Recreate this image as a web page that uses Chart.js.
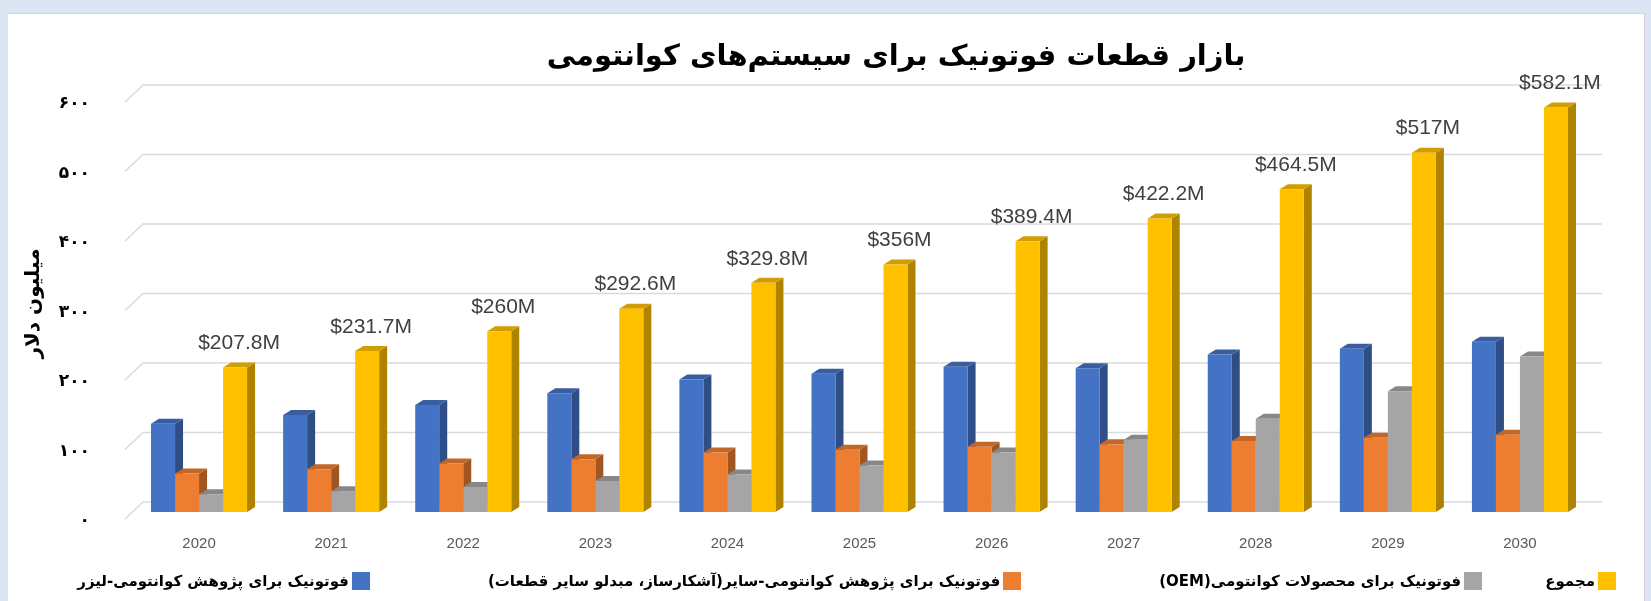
<!DOCTYPE html>
<html lang="fa">
<head>
<meta charset="utf-8">
<title>بازار قطعات فوتونیک برای سیستم‌های کوانتومی</title>
<script src="https://cdn.jsdelivr.net/npm/chart.js@4.4.1/dist/chart.umd.min.js"></script>
<style>
  body { margin: 0; background: #dbe5f4; }
  #panel {
    position: absolute; left: 8px; top: 13px; width: 1636px; height: 588px;
    background: #fff; border-top: 1px solid #d4d4d4; border-right: 1px solid #cfcfcf;
  }
  #wrap { position: absolute; left: 0; top: 0; width: 1651px; height: 601px; }
  #legend {
    position: absolute; left: 20px; right: 35px; top: 570px; height: 22px;
    display: flex; direction: rtl; justify-content: flex-start; align-items: center;
    font: bold 15px "DejaVu Sans", sans-serif; color: #000;
  }
  .item { display: flex; align-items: center; gap: 3px; white-space: nowrap; }
  .item:nth-child(1) { margin-left: 63px; }
  .item:nth-child(2) { margin-left: 138px; }
  .item:nth-child(3) { margin-left: 118px; }
  .box { width: 18px; height: 18px; }
</style>
</head>
<body>
<div id="panel"></div>
<div id="wrap">
  <canvas id="chart" width="1651" height="601"></canvas>
  <div id="legend"></div>
</div>
<script>
// سال‌ها
const years = ['2020', '2021', '2022', '2023', '2024', '2025', '2026', '2027', '2028', '2029', '2030'];

// میلیون دلار، خوانده از تصویر
const laserResearch = [127, 139.5, 154, 171, 190.5, 199, 209, 207, 226.5, 235, 245];
const otherResearch = [55.5, 61.6, 69.7, 76, 85.6, 89.5, 94, 97.6, 102, 107, 111];
const oemProducts = [25.5, 30, 36, 44.7, 54, 67, 85.6, 104, 134, 173.6, 223.7];
const totals = [207.8, 231.7, 260, 292.6, 329.8, 356, 389.4, 422.2, 464.5, 517, 582.1];

const seriesNames = [
  'فوتونیک برای پژوهش کوانتومی-لیزر',
  'فوتونیک برای پژوهش کوانتومی-سایر(آشکارساز، مبدلو سایر قطعات)',
  'فوتونیک برای محصولات کوانتومی(OEM)',
  'مجموع'
];
const seriesColors = ['#4472C4', '#ED7D31', '#A5A5A5', '#FFC000'];

const yTicks = [0, 100, 200, 300, 400, 500, 600];

// اعداد فارسی برای محور
function toFa(n) {
  return String(n).replace(/\d/g, d => '۰۱۲۳۴۵۶۷۸۹'[d]);
}

function shade(hex, f) {
  const n = parseInt(hex.slice(1), 16);
  const r = Math.round(((n >> 16) & 255) * f);
  const g = Math.round(((n >> 8) & 255) * f);
  const b = Math.round((n & 255) * f);
  return `rgb(${r},${g},${b})`;
}

// عمق سه‌بعدی ستون‌ها
const DX = 8, DY = -5;

// خطوط پس‌زمینه و وجه‌های کناری/بالایی ستون‌ها
const bars3d = {
  id: 'bars3d',
  beforeDatasetsDraw(chart) {
    const ctx = chart.ctx;
    const y = chart.scales.y;
    const area = chart.chartArea;
    ctx.save();
    ctx.strokeStyle = '#dadada';
    ctx.lineWidth = 1.5;
    y.ticks.forEach(t => {
      const py = y.getPixelForValue(t.value);
      ctx.beginPath();
      ctx.moveTo(area.left - 8, py + 7);
      ctx.lineTo(area.left + 10, py - 10);
      ctx.lineTo(area.right + 16, py - 10);
      ctx.stroke();
    });
    chart.data.datasets.forEach((ds, di) => {
      const meta = chart.getDatasetMeta(di);
      const col = seriesColors[di];
      meta.data.forEach(el => {
        const x0 = el.x - el.width / 2, x1 = el.x + el.width / 2;
        const top = el.y, base = el.base;
        ctx.fillStyle = shade(col, 0.68);
        ctx.beginPath();
        ctx.moveTo(x1, base); ctx.lineTo(x1, top);
        ctx.lineTo(x1 + DX, top + DY); ctx.lineTo(x1 + DX, base + DY);
        ctx.closePath(); ctx.fill();
        ctx.fillStyle = shade(col, 0.82);
        ctx.beginPath();
        ctx.moveTo(x0, top); ctx.lineTo(x1, top);
        ctx.lineTo(x1 + DX, top + DY); ctx.lineTo(x0 + DX, top + DY);
        ctx.closePath(); ctx.fill();
      });
    });
    ctx.restore();
  },
  afterDatasetsDraw(chart) {
    // برچسب مجموع بالای ستون زرد
    const ctx = chart.ctx;
    const meta = chart.getDatasetMeta(3);
    ctx.save();
    ctx.font = '21px "Liberation Sans", Arial, sans-serif';
    ctx.fillStyle = '#404040';
    ctx.textAlign = 'center';
    ctx.textBaseline = 'middle';
    meta.data.forEach((el, i) => {
      ctx.fillText('$' + totals[i] + 'M', el.x + 4, el.y - 24);
    });
    ctx.restore();
  },
  afterDraw(chart) {
    const ctx = chart.ctx;
    ctx.save();
    ctx.font = 'bold 29px "DejaVu Sans", sans-serif';
    ctx.fillStyle = '#000';
    ctx.textAlign = 'center';
    ctx.textBaseline = 'middle';
    ctx.direction = 'rtl';
    ctx.fillText('بازار قطعات فوتونیک برای سیستم‌های کوانتومی', 896, 57);
    ctx.restore();
  }
};

const chart = new Chart(document.getElementById('chart'), {
  type: 'bar',
  data: {
    labels: years,
    datasets: [laserResearch, otherResearch, oemProducts, totals].map((d, i) => ({
      label: seriesNames[i],
      data: d,
      backgroundColor: seriesColors[i],
      borderWidth: 0,
      categoryPercentage: 0.727,
      barPercentage: 1
    }))
  },
  options: {
    responsive: false,
    animation: false,
    devicePixelRatio: 1,
    layout: { padding: { left: 8, right: 65, top: 95, bottom: 49 } },
    plugins: {
      legend: { display: false },
      tooltip: { enabled: false }
    },
    scales: {
      x: {
        grid: { display: false, drawTicks: false },
        border: { display: false },
        ticks: { color: '#595959', font: { size: 15, family: 'Liberation Sans' }, padding: 23 },
        afterFit: s => { s.height = 40; }
      },
      y: {
        min: 0,
        max: 600,
        afterBuildTicks: s => { s.ticks = yTicks.map(v => ({ value: v })); },
        grid: { display: false, drawTicks: false },
        border: { display: false },
        ticks: {
          color: '#000',
          font: { size: 17, weight: 'bold', family: 'DejaVu Sans' },
          padding: 43,
          labelOffset: 9,
          callback: v => toFa(v)
        },
        title: {
          display: true,
          text: 'میلیون دلار',
          color: '#000',
          font: { size: 20, weight: 'bold', family: 'DejaVu Sans' },
          padding: { top: 14, bottom: 0 }
        },
        afterFit: s => { s.width = 125; }
      }
    }
  },
  plugins: [bars3d]
});

// راهنما (از راست به چپ)
const legendEl = document.getElementById('legend');
chart.data.datasets.slice().reverse().forEach(ds => {
  const item = document.createElement('div');
  item.className = 'item';
  item.innerHTML = `<span class="box" style="background:${ds.backgroundColor}"></span><span>${ds.label}</span>`;
  legendEl.appendChild(item);
});
</script>
</body>
</html>
